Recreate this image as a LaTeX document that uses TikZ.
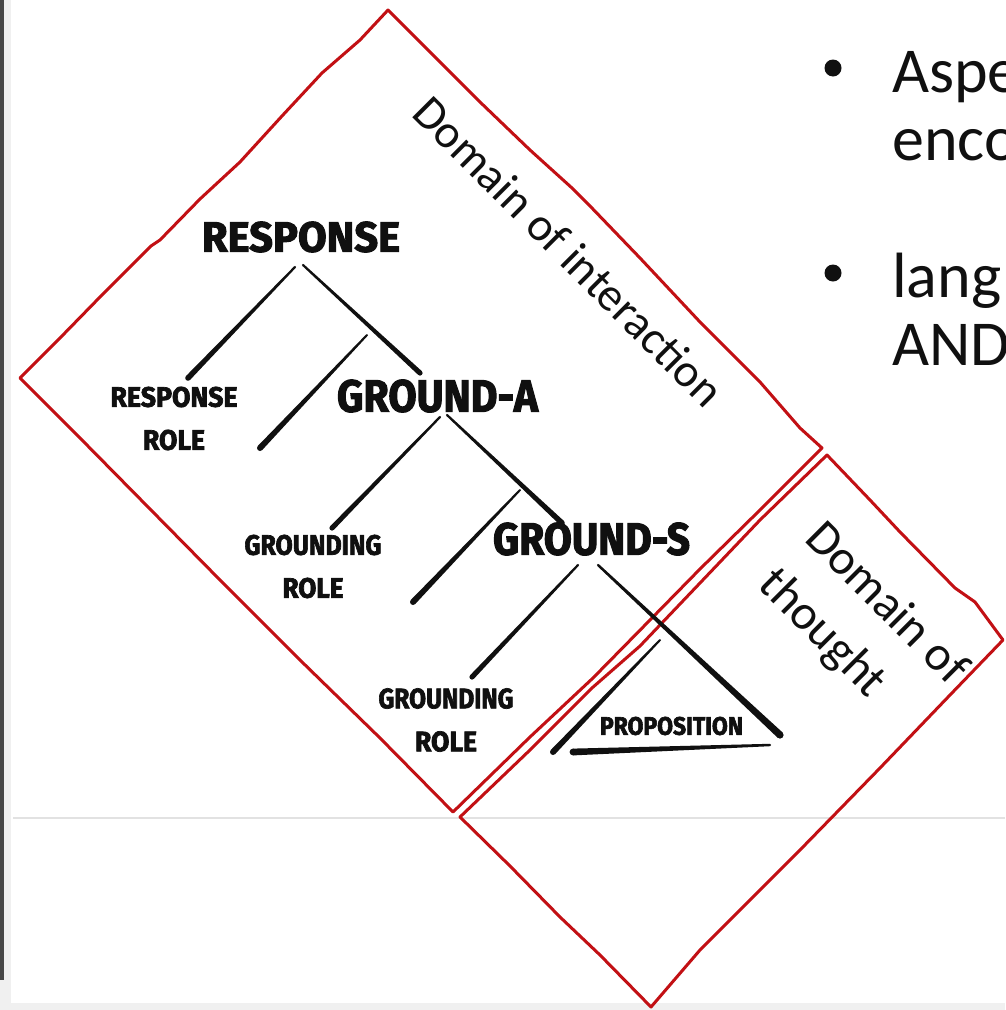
\documentclass[tikz,border=0pt]{standalone}
\usepackage{fontspec}
\usepackage{graphicx}
\setmainfont{Carlito}
\newfontfamily\handfont{Fira Sans}[BoldFeatures={FakeBold=2.5}]
\usetikzlibrary{calc}

\definecolor{pen}{RGB}{194,16,20}
\definecolor{ink}{RGB}{16,16,16}
\definecolor{panelgray}{RGB}{240,240,240}
\definecolor{rulegray}{RGB}{226,226,226}

% hand lettering squeezed into a box of given width and cap height (pt)
\newcommand\hw[3]{\resizebox{#1pt}{#2pt}{\handfont\bfseries #3}}
% tapered marker stroke from #1 to #2, half widths #3 and #4
\newcommand\brushstroke[4]{%
  \fill[ink] ($(#1)!#3!90:(#2)$) -- ($(#2)!#4!-90:(#1)$) --
             ($(#2)!#4!90:(#1)$) -- ($(#1)!#3!-90:(#2)$) -- cycle;
  \fill[ink] (#1) circle (#3);
  \fill[ink] (#2) circle (#4);}

\begin{document}
\begin{tikzpicture}[x=1pt,y=-1pt,
  hand/.style={inner sep=0pt, align=center, text=ink},
  handtwo/.style={hand, font=\fontsize{20}{43}\selectfont},
  domainlabel/.style={inner sep=0pt, anchor=base west, rotate=-45, text=ink},
  slide/.style={inner sep=0pt, anchor=base west, text=ink, font=\fontsize{64}{68}\selectfont},
  bulletdot/.style={circle, fill=ink, minimum size=17pt, inner sep=0pt},
  outline/.style={draw=pen, line width=3pt, line join=round, line cap=round}]

\useasboundingbox (0,0) rectangle (1005,1010);
\clip (0,0) rectangle (1005,1010);

% window frame
\fill[white] (0,0) rectangle (1005,1010);
\fill[panelgray] (0,0) rectangle (11,1010);
\fill[black!72] (0,0) rectangle (3.5,980);
\fill[panelgray] (0,1003) rectangle (1005,1010);
\draw[rulegray, line width=1.5pt] (13,818) -- (1005,818);

% bullet text at the right edge
\node[bulletdot] (bul1) at (833,68) {};
\node[slide] (asp) at (892,92) {Aspe};
\node[slide] (enc) at (892,160) {enco};
\node[bulletdot] (bul2) at (833,273) {};
\node[slide] (lng) at (892,297) {lang};
\node[slide] (and) at (892,365) {AND};

% the two domains, hand drawn
\draw[outline] (20,378) -- (60,338) -- (100,297) -- (151,246) -- (160,240)
  -- (200,199) -- (240,162) -- (282,116) -- (322,73) -- (360,40) -- (388,10)
  -- (430,52) -- (480,102) -- (530,150) -- (572,188) -- (590,206) -- (640,258)
  -- (700,322) -- (760,382) -- (800,428) -- (822,448)
  -- (760,510) -- (700,569) -- (650,620) -- (593,678) -- (530,737) -- (453,812)
  -- (380,738) -- (300,660) -- (220,580) -- (150,509) -- (80,438) -- cycle;
\draw[outline] (827,455) -- (870,500) -- (900,532) -- (955,588) -- (975,602)
  -- (1003,640) -- (950,695) -- (880,768) -- (800,850) -- (700,950) -- (651,1007)
  -- (600,955) -- (560,917) -- (510,866) -- (460,817)
  -- (530,750) -- (592,688) -- (640,646) -- (700,583) -- (760,520) -- cycle;

\node[domainlabel, font=\fontsize{47}{60}\selectfont] (dint) at (410,115) {Domain of interaction};
\node[domainlabel, font=\fontsize{49}{60}\selectfont] (dth1) at (803,540) {Domain of};
\node[domainlabel, font=\fontsize{49}{60}\selectfont] (dth2) at ($(803,540)+(-46.7,46.7)$) {thought};

% tree labels
\node[hand] (resp) at (301,237) {\hw{198}{30}{RESPONSE}};
\node[handtwo] (rrole) at (174,418.5) {\hw{127}{20}{RESPONSE}\\\hw{62}{20}{ROLE}};
\node[hand] (gra) at (437.5,396) {\hw{201}{32}{GROUND-A}};
\node[handtwo] (grole1) at (313,566.5) {\hw{137}{20}{GROUNDING}\\\hw{61}{20}{ROLE}};
\node[hand] (grs) at (591.5,539) {\hw{197}{32}{GROUND-S}};
\node[handtwo] (grole2) at (446,720) {\hw{135}{20}{GROUNDING}\\\hw{62}{20}{ROLE}};
\node[hand] (prop) at (671.5,726) {\hw{143}{18}{PROPOSITION}};

% stroke end points
\coordinate (rA1) at (295,267); \coordinate (rA2) at (188,378);
\coordinate (rB1) at (303,265); \coordinate (rB2) at (420,373);
\coordinate (s1a) at (367,335); \coordinate (s1b) at (260,448);
\coordinate (gA1) at (440,417); \coordinate (gA2) at (332,528);
\coordinate (gB1) at (447,415); \coordinate (gB2) at (562,523);
\coordinate (s2a) at (520,490); \coordinate (s2b) at (413,602);
\coordinate (gC1) at (578,565); \coordinate (gC2) at (472,677);
\coordinate (gD1) at (598,565); \coordinate (gD2) at (780,735);
\coordinate (tL1) at (660,640); \coordinate (tL2) at (553,752);
\coordinate (tB1) at (573,752); \coordinate (tB2) at (770,745);

% marker strokes of the tree
\brushstroke{rA1}{rA2}{1.1pt}{2.8pt}
\brushstroke{rB1}{rB2}{1.1pt}{2.6pt}
\brushstroke{s1a}{s1b}{1.0pt}{3.0pt}
\brushstroke{gA1}{gA2}{1.1pt}{2.6pt}
\brushstroke{gB1}{gB2}{1.1pt}{2.8pt}
\brushstroke{s2a}{s2b}{1.0pt}{3.0pt}
\brushstroke{gC1}{gC2}{1.1pt}{2.6pt}
\brushstroke{gD1}{gD2}{1.2pt}{3.6pt}
\brushstroke{tL1}{tL2}{1.0pt}{3.0pt}
\brushstroke{tB1}{tB2}{3.4pt}{1.2pt}
\end{tikzpicture}
\end{document}
